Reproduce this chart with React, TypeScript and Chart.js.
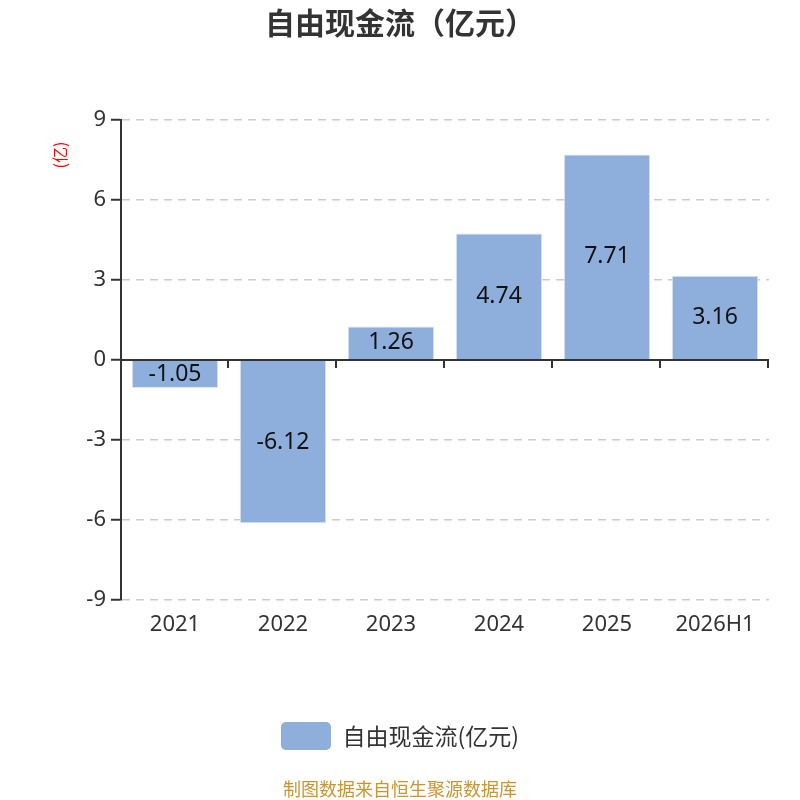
import React, { useEffect, useRef } from "react";
import { Chart, registerables } from "chart.js";

Chart.register(...registerables);

const categories = ["2021", "2022", "2023", "2024", "2025", "2026H1"];
const values = [-1.05, -6.12, 1.26, 4.74, 7.71, 3.16];
const valueLabels = ["-1.05", "-6.12", "1.26", "4.74", "7.71", "3.16"];
const yMin = -9;
const yMax = 9;
const yStep = 3;
const seriesName = "自由现金流(亿元)";
const titleText = "自由现金流（亿元）";
const unitLabel = "(亿)";
const footerText = "制图数据来自恒生聚源数据库";

const FONT = '"Noto Sans", "Noto Sans CJK SC", sans-serif';
const CJK_FONT = '"Noto Sans CJK SC", "Noto Sans", sans-serif';
const BAR_COLOR = "#8eaedb";
const AXIS_COLOR = "#333333";

const zeroAxisPlugin = {
  id: "zeroAxis",
  afterDatasetsDraw(chart: any) {
    const { ctx, chartArea, scales } = chart;
    const y0 = scales.y.getPixelForValue(0);
    const xs = scales.x;
    const n = categories.length;
    ctx.save();
    ctx.strokeStyle = AXIS_COLOR;
    ctx.lineWidth = 2;
    ctx.beginPath();
    ctx.moveTo(chartArea.left, y0);
    ctx.lineTo(chartArea.right, y0);
    ctx.stroke();
    for (let i = 1; i <= n; i++) {
      const x = Math.round(xs.left + (i * xs.width) / n) - 1;
      ctx.beginPath();
      ctx.moveTo(x, y0);
      ctx.lineTo(x, y0 + 8);
      ctx.stroke();
    }
    ctx.restore();
  },
};

const dataLabelPlugin = {
  id: "dataLabels",
  afterDatasetsDraw(chart: any) {
    const { ctx } = chart;
    const meta = chart.getDatasetMeta(0);
    ctx.save();
    ctx.font = `23px ${FONT}`;
    ctx.fillStyle = "#111111";
    ctx.textAlign = "center";
    ctx.textBaseline = "middle";
    meta.data.forEach((el: any, i: number) => {
      const { x, y, base } = el.getProps(["x", "y", "base"], true);
      ctx.fillText(valueLabels[i], x, (y + base) / 2);
    });
    ctx.restore();
  },
};

const unitTitlePlugin = {
  id: "unitTitle",
  afterDraw(chart: any) {
    const { ctx, chartArea } = chart;
    ctx.save();
    ctx.translate(chartArea.left - 61, chartArea.top + 35);
    ctx.rotate(-Math.PI / 2);
    ctx.font = `16px ${CJK_FONT}`;
    ctx.fillStyle = "#ff0000";
    ctx.textAlign = "center";
    ctx.textBaseline = "middle";
    ctx.fillText(unitLabel, 0, 0);
    ctx.restore();
  },
};

export default function App() {
  const ref = useRef<HTMLCanvasElement | null>(null);

  useEffect(() => {
    if (!ref.current) return;
    const chart = new Chart(ref.current, {
      type: "bar",
      data: {
        labels: categories,
        datasets: [
          {
            label: seriesName,
            data: values,
            backgroundColor: BAR_COLOR,
            borderColor: "#dce6f4",
            borderWidth: 1,
            barPercentage: 0.8,
            categoryPercentage: 1,
          },
        ],
      },
      options: {
        animation: false,
        responsive: false,
        maintainAspectRatio: false,
        layout: { padding: 0 },
        scales: {
          x: {
            grid: { display: false, drawTicks: false },
            border: { display: false },
            ticks: {
              font: { size: 22, family: FONT },
              color: AXIS_COLOR,
              padding: 12,
              maxRotation: 0,
            },
            afterFit(scale: any) {
              scale.height = 112;
            },
          },
          y: {
            min: yMin,
            max: yMax,
            ticks: {
              stepSize: yStep,
              font: { size: 22, family: FONT },
              color: AXIS_COLOR,
              padding: 5,
            },
            grid: {
              color: "#cccccc",
              lineWidth: 1.5,
              drawTicks: true,
              tickLength: 10,
              tickColor: AXIS_COLOR,
              tickWidth: 2,
              tickBorderDash: [],
            },
            border: { display: true, color: AXIS_COLOR, width: 2, dash: [8, 6] },
            afterFit(scale: any) {
              scale.width = 121;
            },
          },
          yRight: {
            position: "right",
            display: true,
            min: yMin,
            max: yMax,
            grid: { display: false, drawTicks: false },
            border: { display: false },
            ticks: { display: false },
            afterFit(scale: any) {
              scale.width = 31;
            },
          },
        },
        plugins: {
          title: {
            display: true,
            text: titleText,
            color: AXIS_COLOR,
            font: { size: 30, weight: "bold", family: CJK_FONT },
            padding: { top: 5, bottom: 79 },
          },
          subtitle: {
            display: true,
            position: "bottom",
            text: footerText,
            color: "#c9952f",
            font: { size: 18, family: CJK_FONT },
            padding: { top: 18.2, bottom: 0.2 },
          },
          legend: {
            display: true,
            position: "bottom",
            labels: {
              boxWidth: 50,
              boxHeight: 28,
              padding: 10,
              color: AXIS_COLOR,
              font: { size: 23, family: CJK_FONT },
              useBorderRadius: true,
              borderRadius: 5,
              generateLabels(chart: any) {
                return Chart.defaults.plugins.legend.labels
                  .generateLabels(chart)
                  .map((l: any) => ({ ...l, lineWidth: 0, strokeStyle: "rgba(0,0,0,0)" }));
              },
            },
          },
          tooltip: { enabled: false },
        },
      },
      plugins: [zeroAxisPlugin, dataLabelPlugin, unitTitlePlugin],
    } as any);
    return () => chart.destroy();
  }, []);

  return (
    <div style={{ position: "absolute", left: 0, top: 0, width: 800, height: 800, background: "#fff" }}>
      <canvas ref={ref} width={800} height={800} />
    </div>
  );
}
